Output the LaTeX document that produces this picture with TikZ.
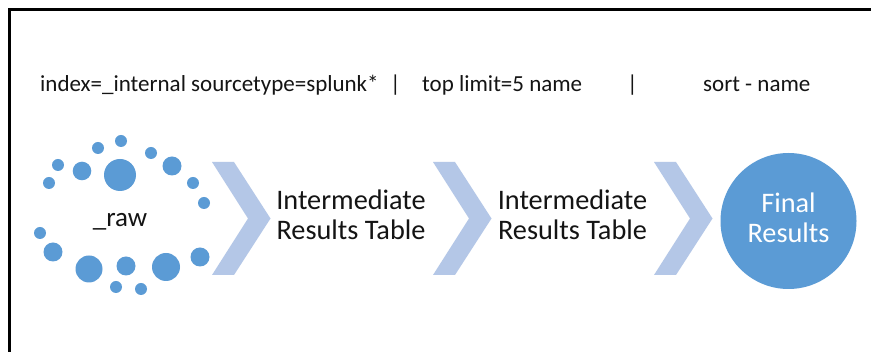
\documentclass[tikz,border=0pt]{standalone}
\usepackage{fontspec}
\setmainfont{Carlito}
\definecolor{dotblue}{RGB}{91,155,213}
\definecolor{chevblue}{RGB}{180,199,231}
\definecolor{txt}{RGB}{20,20,20}
\begin{document}
\begin{tikzpicture}[x=1pt,y=-1pt,
  dot/.style={fill=dotblue},
  chevfill/.style={fill=chevblue},
  cmd/.style={anchor=base west,inner sep=0pt,text=txt,font=\fontsize{23}{26}\selectfont},
  big/.style={anchor=base,inner sep=0pt,align=center,text=txt,font=\fontsize{28.3}{30.5}\selectfont},
  chevron/.pic={\fill[chevfill] (0,0) -- (22,0) -- (58.5,56.5) -- (22,113) -- (0,113) -- (36,56.5) -- cycle;}
]
\useasboundingbox (0,0) rectangle (871,352);
\fill[white] (0,0) rectangle (871,352);
% frame
\draw[line width=3pt,black] (9.5,352) -- (9.5,10) -- (871,10);
% command line
\node[cmd] (q1) at (40,92) {index=\_internal sourcetype=splunk*};
\node[cmd] (p1) at (390,92) {|};
\node[cmd] (q2) at (422,92) {top limit=5 name};
\node[cmd] (p2) at (627,92) {|};
\node[cmd] (q3) at (703,92) {sort - name};
% raw dots
\foreach \x/\y/\r in {121/141/6, 98/148/6, 151/153/6, 58/165/6, 82/171/9.3, 120/175/16,
  172/166/9.5, 49/183/6, 193/183/6, 204/203/6, 40/233/6, 53/252/9.5, 200/257/9.5,
  89/269/13.5, 126/266/9.5, 166/267/14, 116/287/6, 141/289/6}
  \fill[dot] (\x,\y) circle[radius=\r];
\node[big,font=\fontsize{27}{30}\selectfont] (raw) at (120,227) {\_raw};
% chevrons
\pic at (212,162) {chevron};
\pic at (433,162) {chevron};
\pic at (654,162) {chevron};
% intermediate tables
\node[big] (t1) at (351,240) {Intermediate\\Results Table};
\node[big] (t2) at (572.5,240) {Intermediate\\Results Table};
% final
\fill[dotblue] (788.5,221) circle[radius=68];
\node[big,text=white] (fin) at (788.5,243) {Final\\Results};
\end{tikzpicture}
\end{document}
